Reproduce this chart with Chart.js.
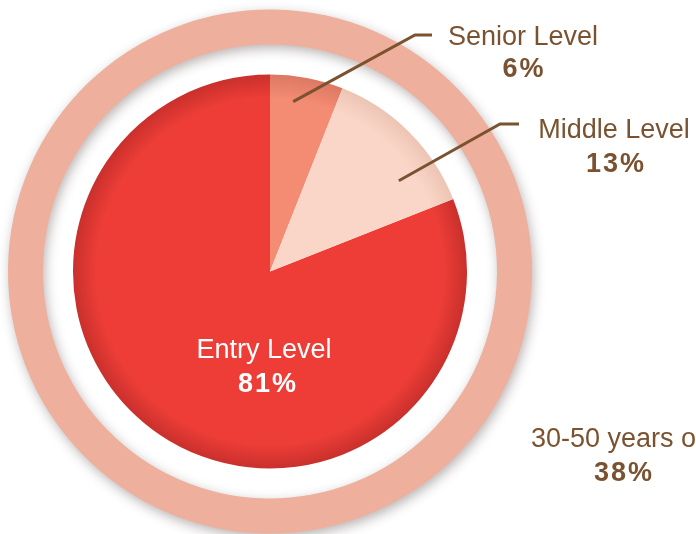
<!DOCTYPE html>
<html>
<head>
<meta charset="utf-8">
<script src="https://cdn.jsdelivr.net/npm/chart.js@4.4.0/dist/chart.umd.min.js"></script>
<style>
  html, body { margin: 0; padding: 0; background: #ffffff; overflow: hidden; }
  #wrap { position: relative; width: 696px; height: 534px; }
</style>
</head>
<body>
<div id="wrap"><canvas id="c" width="696" height="534"></canvas></div>
<script>
// ---- data ----
const categories = ["Entry Level", "Senior Level", "Middle Level"];
const shares = [81, 6, 13];
const sliceColors = ["#EE3D37", "#F48B73", "#FAD6C8"];
const sliceEdgeColors = ["#C9302C", "#DC7862", "#EDC4B4"];
const ringLabel = "30-50 years old";
const ringShare = [38];

const brown = "#7B5230";
const fontFam = '"Liberation Sans", Arial, Helvetica, sans-serif';

// pie rotation so that Entry Level (81%) ends at top
const rotationDeg = -shares[0] / 100 * 360;

function sliceFill(ctx) {
  const i = ctx.dataIndex;
  const base = sliceColors[i];
  const chart = ctx.chart;
  const ca = chart.chartArea;
  const ctrl = chart.getDatasetMeta(2).controller;
  const R = ctrl && ctrl.outerRadius;
  if (!ca || !R || !isFinite(R)) return base;
  const x = (ca.left + ca.right) / 2, y = (ca.top + ca.bottom) / 2;
  const g = chart.ctx.createRadialGradient(x, y, 0, x, y, R);
  g.addColorStop(0, base);
  g.addColorStop(0.88, base);
  g.addColorStop(1, sliceEdgeColors[i]);
  return g;
}

const labelPlugin = {
  id: 'labels',
  beforeDatasetDraw(chart, args) {
    if (args.index === 0) {
      const c = chart.ctx;
      c.save();
      c.shadowColor = 'rgba(60,40,40,0.35)';
      c.shadowBlur = 12;
      c.shadowOffsetX = 2;
      c.shadowOffsetY = 4;
    }
  },
  afterDatasetDraw(chart, args) {
    if (args.index === 0) chart.ctx.restore();
  },
  afterDraw(chart) {
    const c = chart.ctx;
    const meta = chart.getDatasetMeta(2);
    const arcs = meta.data;
    const cx = arcs[0].x, cy = arcs[0].y, R = arcs[0].outerRadius;

    function pt(el, frac, rfrac) {
      const a = el.startAngle + (el.endAngle - el.startAngle) * frac;
      return [cx + Math.cos(a) * R * rfrac, cy + Math.sin(a) * R * rfrac];
    }
    // leader lines
    c.save();
    c.strokeStyle = brown;
    c.lineWidth = 3;
    c.lineCap = 'butt';
    const leaders = [
      { el: arcs[1], frac: 0.36, rf: 0.87, ex: 145, ey: -236.5, hx: 162 },
      { el: arcs[2], frac: 0.71, rf: 0.80, ex: 230, ey: -147.5, hx: 249 }
    ];
    leaders.forEach(l => {
      const [sx, sy] = pt(l.el, l.frac, l.rf);
      c.beginPath();
      c.moveTo(sx, sy);
      c.lineTo(cx + l.ex, cy + l.ey);
      c.lineTo(cx + l.hx, cy + l.ey);
      c.stroke();
    });
    c.restore();

    // texts
    function txt(s, x, y, color, bold) {
      c.save();
      c.fillStyle = color;
      c.textAlign = 'center';
      c.textBaseline = 'alphabetic';
      c.font = (bold ? 'bold ' : '') + '27px ' + fontFam;
      if (bold) c.letterSpacing = '2px';
      c.fillText(s, x + (bold ? 1 : 0), y);
      c.restore();
    }
    txt(categories[1], cx + 253, cy - 226.5, brown, false);
    txt(shares[1] + '%', cx + 253, cy - 194.5, brown, true);
    txt(categories[2], cx + 344, cy - 133.5, brown, false);
    txt(shares[2] + '%', cx + 345, cy - 100, brown, true);
    txt(categories[0], cx - 6, cy + 86.5, '#ffffff', false);
    txt(shares[0] + '%', cx - 3, cy + 120, '#ffffff', true);
    txt(ringLabel, cx + 354, cy + 175, brown, false);
    txt(ringShare[0] + '%', cx + 353, cy + 209, brown, true);
  }
};

new Chart(document.getElementById('c'), {
  type: 'pie',
  data: {
    labels: categories,
    datasets: [
      { data: [100], backgroundColor: '#EEAF9C', borderWidth: 0, weight: 35 },
      { data: [100], backgroundColor: 'rgba(0,0,0,0)', borderWidth: 0, weight: 30 },
      { data: shares, backgroundColor: sliceFill, borderWidth: 0, weight: 197 }
    ]
  },
  options: {
    responsive: false,
    animation: false,
    events: [],
    rotation: rotationDeg,
    radius: 262,
    layout: { padding: { left: 0, right: 156, top: 9, bottom: 0 } },
    plugins: { legend: { display: false }, tooltip: { enabled: false } }
  },
  plugins: [labelPlugin]
});
</script>
</body>
</html>
